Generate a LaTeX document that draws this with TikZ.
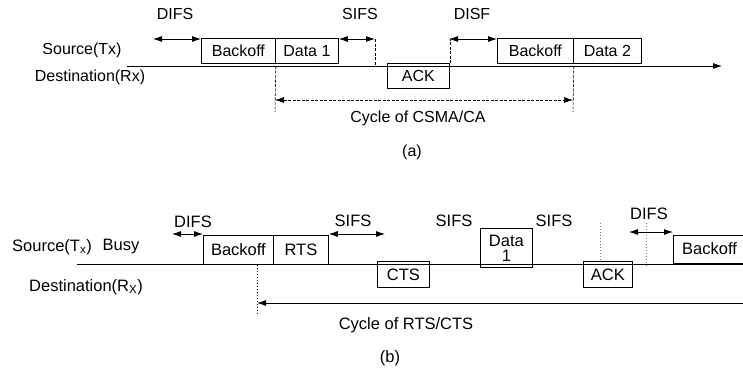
\documentclass[tikz,border=0pt]{standalone}
\usepackage{fontspec}
\setmainfont{Liberation Sans}
\usetikzlibrary{arrows.meta}
\begin{document}
\begin{tikzpicture}[x=1pt,y=-1pt,
  lbl/.style={font=\fontsize{16}{18}\selectfont, inner sep=0pt},
  lblb/.style={font=\fontsize{16.5}{17}\selectfont, inner sep=0pt},
  box/.style={draw, line width=0.8pt, inner sep=0pt, anchor=north west, font=\fontsize{16}{18}\selectfont},
  dbl/.style={{Latex[length=9pt,width=6pt]}-{Latex[length=9pt,width=6pt]}, line width=0.8pt},
  sgl/.style={-{Latex[length=9pt,width=6pt]}, line width=0.8pt},
  dsh/.style={dash pattern=on 3pt off 1.5pt, line width=0.6pt},
  dot/.style={dash pattern=on 0.8pt off 2.2pt, line width=0.7pt, gray}
]
\useasboundingbox (0,0) rectangle (743,372);
\clip (0,0) rectangle (743,372);
% ---------------- (a) ----------------
\node[lbl] (srcA) at (82,50) {Source(Tx)};
\node[lbl] (dstA) at (90,77) {Destination(Rx)};
\coordinate (lineAs) at (127,66);
\coordinate (lineAe) at (722,66);
\draw[sgl] (lineAs) -- (lineAe);
\node[box, minimum width=74pt, minimum height=25pt] (bo1) at (201,38) {Backoff};
\node[box, minimum width=63pt, minimum height=25pt] (da1) at (275,38) {Data 1};
\node[box, minimum width=62pt, minimum height=25pt] (ack1) at (387,63) {ACK\hspace{10pt}};
\node[box, minimum width=76pt, minimum height=25pt] (bo2) at (497,38) {Backoff};
\node[box, minimum width=68pt, minimum height=25pt] (da2) at (573,38) {Data 2};
% DIFS
\node[lbl] (difsA) at (175,14) {DIFS};
\coordinate (difsAl) at (153,39);
\draw[dbl] (difsAl) -- (bo1.north west |- difsAl);
% SIFS
\node[lbl] (sifsA) at (360,14) {SIFS};
\coordinate (sifsAr) at (375,39);
\draw[dbl] (da1.north east |- sifsAr) -- (sifsAr);
\draw[dsh] (sifsAr) -- (sifsAr |- lineAs);
% DISF
\node[lbl] (disfA) at (472,14) {DISF};
\coordinate (disfAl) at (449,39);
\draw[dsh] (ack1.north east) -- (ack1.north east |- disfAl);
\draw[dbl] (disfAl) -- (bo2.north west |- disfAl);
% cycle
\coordinate (cycL) at (275,100);
\coordinate (cycR) at (573,100);
\draw[dsh] (bo1.south east |- lineAs) -- (275,112);
\draw[dsh] (bo2.south east |- lineAs) -- (573,112);
\draw[dbl, dsh] (cycL) -- (cycR);
\node[lbl] (cycA) at (418,118) {Cycle of CSMA/CA};
\node[lbl] (capA) at (412,152) {(a)};
% ---------------- (b) ----------------
\node[lblb, anchor=west] (srcB) at (12,247) {Source(T\textsubscript{x})};
\node[lblb] (busy) at (121,247) {Busy};
\node[lblb, anchor=west] (dstB) at (29,287) {Destination(R\textsubscript{X})};
\coordinate (lineBs) at (77,264);
\coordinate (lineBe) at (745,264);
\draw[line width=0.8pt] (lineBs) -- (lineBe);
\node[box, minimum width=70pt, minimum height=29pt, font=\fontsize{16.5}{17}\selectfont] (bo3) at (203,235) {Backoff};
\node[box, minimum width=55pt, minimum height=29pt, font=\fontsize{16.5}{17}\selectfont] (rts) at (273,235) {RTS};
\node[box, minimum width=52pt, minimum height=26pt, font=\fontsize{16.5}{17}\selectfont] (cts) at (377,261) {CTS};
\node[box, minimum width=52pt, minimum height=39pt, align=center, font=\fontsize{16.5}{15}\selectfont] (da3) at (480,228) {Data\\1};
\node[box, minimum width=49pt, minimum height=26pt, font=\fontsize{16.5}{17}\selectfont] (ack2) at (583,261) {ACK};
\node[box, minimum width=130pt, minimum height=28pt, font=\fontsize{16.5}{17}\selectfont] (bo4) at (673,235) {};
\node[lblb, anchor=west] (bo4t) at (682,249) {Backoff};
% DIFS left
\node[lblb] (difsB) at (193,222) {DIFS};
\coordinate (difsBl) at (172,234);
\draw[dbl] (difsBl) -- (bo3.north west |- difsBl);
% SIFS after RTS
\node[lblb] (sifsB1) at (353,221) {SIFS};
\coordinate (sifsB1r) at (385,234);
\draw[dbl] (rts.north east |- sifsB1r) -- (sifsB1r);
\node[lblb] (sifsB2) at (454,221) {SIFS};
\node[lblb] (sifsB3) at (554,221) {SIFS};
% dotted markers
\coordinate (dotA) at (600,223);
\draw[dot] (dotA) -- (dotA |- ack2.north);
\coordinate (dotB) at (646,223);
\draw[dot] (dotB) -- (646,267);
% DIFS right
\node[lblb] (difsB2) at (649,214) {DIFS};
\coordinate (difsB2l) at (629,232);
\draw[dbl] (difsB2l) -- (bo4.north west |- difsB2l);
% cycle
\coordinate (cycBL) at (257,303);
\coordinate (cycBR) at (745,303);
\draw[dot, black] (bo3.south east -| cycBL) -- (257,313);
\draw[sgl] (cycBR) -- (cycBL);
\node[lblb] (cycB) at (406,325) {Cycle of RTS/CTS};
\node[lblb] (capB) at (390,358) {(b)};
\end{tikzpicture}
\end{document}
